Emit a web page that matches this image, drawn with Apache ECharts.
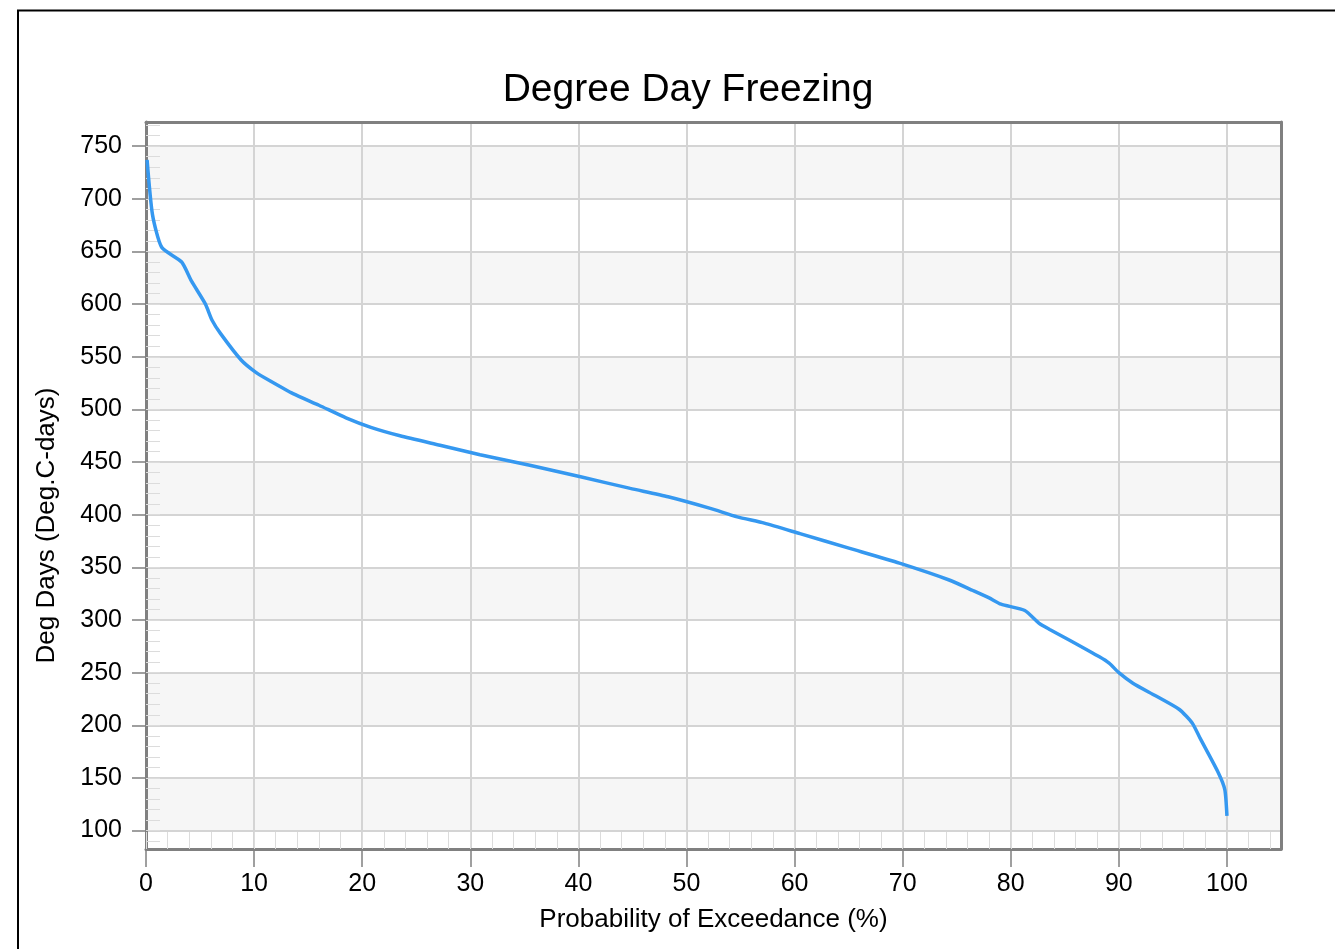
<!DOCTYPE html>
<html>
<head>
<meta charset="utf-8">
<title>Degree Day Freezing</title>
<script src="https://cdn.jsdelivr.net/npm/echarts@6/dist/echarts.min.js"></script>
<style>
  html, body { margin: 0; padding: 0; background: #fff; }
  #chart { width: 1335px; height: 949px; }
</style>
</head>
<body>
<div id="chart"></div>
<script>
// Exceedance probability (%) and freezing degree days (Deg.C-days)
const prob = [0.1, 0.6, 1.45, 3.3, 4.2, 5.5, 6.1, 6.9, 8.8, 10.2, 11.5, 13.6, 16, 18.5, 20.8, 23.5,
  27.2, 30.9, 35.5, 40.2, 44.8, 48.3, 52.2, 54.7, 57.2, 60.5, 65.1, 69.7, 74.3, 76.5, 78.0, 79.1,
  81.3, 82.6, 83.6, 85.4, 88.2, 89.1, 90.0, 91.3, 93.4, 95.6, 96.8, 97.5, 99.2, 99.8, 100];
const degDays = [737, 685, 654, 640, 622, 600, 585, 572, 547, 535, 527, 515, 504, 492, 483, 475,
  466, 457, 447, 436, 425, 417, 406, 398, 392, 382, 368, 354, 338, 328, 321, 315,
  309, 297, 291, 281, 265, 259, 250, 240, 228, 215, 202, 188, 155, 139, 114];

// Axis tick values
const xTicks = [0, 10, 20, 30, 40, 50, 60, 70, 80, 90, 100];
const yTicks = [100, 150, 200, 250, 300, 350, 400, 450, 500, 550, 600, 650, 700, 750];
const xMinorTicks = [];
for (let v = 0; v <= 104; v += 2) xMinorTicks.push(v);
const yMinorTicks = [];
for (let v = 90; v <= 770; v += 10) yMinorTicks.push(v);

const X_MIN = 0, X_MAX = 105;
const Y_MIN = 82.5, Y_MAX = 773;

const FONT = "'Liberation Sans', Arial, sans-serif";
const frameColor = '#808080';
const gridColor = '#d4d4d4';
const minorColor = '#dcdcdc';

const chart = echarts.init(document.getElementById('chart'), null, { renderer: 'canvas' });

const points = prob.map((p, i) => [p, degDays[i]]);

chart.setOption({
  animation: false,
  backgroundColor: '#fff',
  title: {
    text: 'Degree Day Freezing',
    left: 683,
    top: 66,
    textAlign: 'center',
    textStyle: { fontFamily: FONT, fontSize: 39, fontWeight: 'normal', color: '#000' }
  },
  graphic: [{
    type: 'rect',
    x: 0, y: 0,
    shape: { x: 18, y: 10.5, width: 1340, height: 960 },
    style: { fill: 'none', stroke: '#000', lineWidth: 2 },
    z: 100
  }],
  grid: { left: 146, right: 54, top: 122, bottom: 100, containLabel: false },
  xAxis: [{
    type: 'value', min: X_MIN, max: X_MAX, position: 'bottom',
    name: 'Probability of Exceedance (%)', nameLocation: 'middle', nameGap: 58,
    nameTextStyle: { fontFamily: FONT, fontSize: 26, color: '#000' },
    axisLine: { show: true, onZero: false, lineStyle: { color: frameColor, width: 3 } },
    axisTick: { show: true, customValues: xTicks, length: 18, lineStyle: { color: frameColor, width: 1.5 } },
    axisLabel: { customValues: xTicks, margin: 23, fontFamily: FONT, fontSize: 25, color: '#000' },
    splitLine: { show: true, lineStyle: { color: gridColor, width: 2 } }
  }, {
    type: 'value', min: X_MIN, max: X_MAX, position: 'bottom',
    axisLine: { show: false },
    axisTick: { show: true, inside: true, customValues: xMinorTicks, length: 17, lineStyle: { color: minorColor, width: 1 } },
    axisLabel: { show: false },
    splitLine: { show: false }
  }, {
    type: 'value', min: X_MIN, max: X_MAX, position: 'top',
    axisLine: { show: true, onZero: false, lineStyle: { color: frameColor, width: 3 } },
    axisTick: { show: false }, axisLabel: { show: false }, splitLine: { show: false }
  }],
  yAxis: [{
    type: 'value', min: Y_MIN, max: Y_MAX, position: 'left',
    name: 'Deg Days (Deg.C-days)', nameLocation: 'middle', nameGap: 86, nameRotate: 90,
    nameTextStyle: { fontFamily: FONT, fontSize: 26, color: '#000', padding: [0, 80, 0, 0] },
    axisLine: { show: true, onZero: false, lineStyle: { color: frameColor, width: 3 } },
    axisTick: { show: true, customValues: yTicks, length: 14, lineStyle: { color: frameColor, width: 1.5 } },
    axisLabel: { customValues: yTicks, margin: 24, fontFamily: FONT, fontSize: 25, color: '#000' },
    splitLine: { show: true, lineStyle: { color: gridColor, width: 2 } },
    splitArea: { show: true, areaStyle: { color: ['#f6f6f6', 'rgba(255,255,255,0)'] } }
  }, {
    type: 'value', min: Y_MIN, max: Y_MAX, position: 'left',
    axisLine: { show: false },
    axisTick: { show: true, inside: true, customValues: yMinorTicks, length: 14, lineStyle: { color: minorColor, width: 1 } },
    axisLabel: { show: false },
    splitLine: { show: false }
  }, {
    type: 'value', min: Y_MIN, max: Y_MAX, position: 'right',
    axisLine: { show: true, onZero: false, lineStyle: { color: frameColor, width: 3 } },
    axisTick: { show: false }, axisLabel: { show: false }, splitLine: { show: false }
  }],
  series: [{
    type: 'line',
    data: points,
    xAxisIndex: 0, yAxisIndex: 0,
    showSymbol: false,
    smooth: 0.2,
    lineStyle: { color: '#3598f0', width: 3.5 },
    z: 5
  }]
});
</script>
</body>
</html>
